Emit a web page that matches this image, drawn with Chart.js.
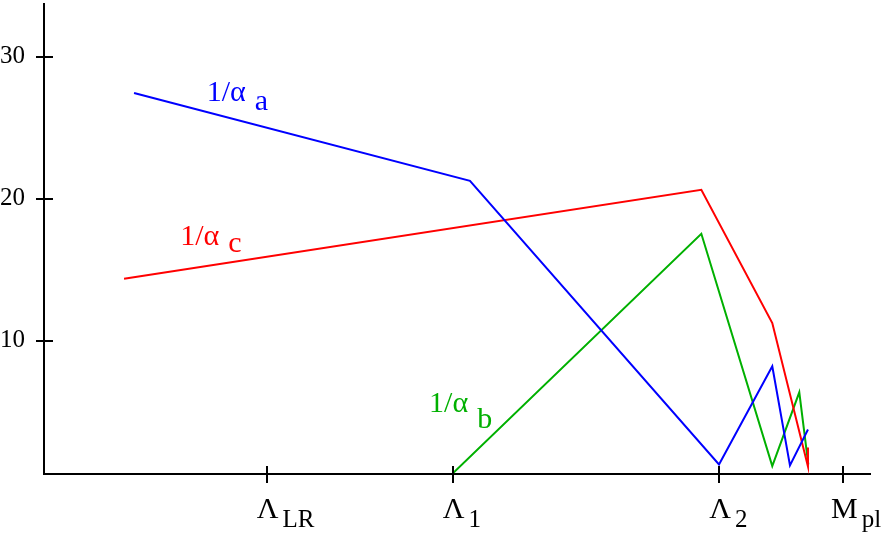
<!DOCTYPE html>
<html lang="en">
<head>
  <meta charset="UTF-8">
  <title>Running couplings</title>
  <script src="https://cdn.jsdelivr.net/npm/chart.js"></script>
  <style>
    html, body { margin: 0; padding: 0; background: #fff; }
    #wrap { width: 888px; height: 537px; position: relative; }
  </style>
</head>
<body>
  <div id="wrap"><canvas id="chart"></canvas></div>

  <script>
    // scale positions (arbitrary log-energy units, 0..100)
    const scaleTicks = [26.96, 49.48, 81.72, 96.77];
    const scaleNames = ['Λ', 'Λ', 'Λ', 'M'];
    const scaleSubs = ['LR', '1', '2', 'pl'];

    const yTicks = [10, 20, 30];

    // 1/alpha_a (blue)
    const aX = [10.90, 51.57, 81.72, 88.17, 90.31, 92.49];
    const aY = [27.44, 21.25, 1.28, 8.19, 1.21, 3.74];
    // 1/alpha_c (red)
    const cX = [9.69, 79.58, 88.17, 92.49, 92.49];
    const cY = [14.36, 20.62, 11.24, 1.14, 2.47];
    // 1/alpha_b (green)
    const bX = [49.48, 79.58, 88.17, 91.44, 92.53];
    const bY = [0.65, 17.52, 1.17, 6.36, 1.28];

    const curveNames = ['a', 'c', 'b'];
    const curveColors = ['#0000ff', '#ff0000', '#00b000'];
    // label anchor (data units) and subscript drop in px
    const labelX = [19.70, 16.49, 46.62];
    const labelY = [26.90, 16.75, 4.96];
    const subDrop = [9, 7, 16];

    const pts = (xs, ys) => xs.map((x, i) => ({ x: x, y: ys[i] }));

    const serif = '"Liberation Serif", "Times New Roman", serif';

    // tick marks crossing the axes + x labels with subscripts + curve labels
    const decor = {
      id: 'decor',
      afterDraw(chart) {
        const ctx = chart.ctx;
        const xs = chart.scales.x, ys = chart.scales.y;
        const area = chart.chartArea;
        ctx.save();
        ctx.strokeStyle = '#000';
        ctx.lineWidth = 2;
        ctx.beginPath();
        scaleTicks.forEach(v => {
          const px = Math.round(xs.getPixelForValue(v));
          ctx.moveTo(px, area.bottom);
          ctx.lineTo(px, area.bottom - 8);
        });
        yTicks.forEach(v => {
          const py = Math.round(ys.getPixelForValue(v));
          ctx.moveTo(area.left, py);
          ctx.lineTo(area.left + 9, py);
        });
        ctx.stroke();

        ctx.fillStyle = '#000';
        ctx.textBaseline = 'alphabetic';
        ctx.textAlign = 'left';
        scaleTicks.forEach((v, i) => {
          const px = xs.getPixelForValue(v);
          ctx.font = '30px ' + serif;
          const w = ctx.measureText(scaleNames[i]).width;
          const left = px - w / 2 + 1;
          ctx.fillText(scaleNames[i], left, 518);
          ctx.font = '25px ' + serif;
          ctx.fillText(scaleSubs[i], left + w + 4, 527);
        });

        curveNames.forEach((n, i) => {
          const px = xs.getPixelForValue(labelX[i]);
          const py = ys.getPixelForValue(labelY[i]);
          ctx.fillStyle = curveColors[i];
          ctx.font = '30px ' + serif;
          const main = '1/α';
          const w = ctx.measureText(main).width;
          ctx.fillText(main, px, py);
          ctx.fillText(n, px + w + 9, py + subDrop[i]);
        });
        ctx.restore();
      }
    };

    const line = (data, color) => ({
      data: data,
      borderColor: color,
      borderWidth: 2,
      pointRadius: 0,
      tension: 0,
      fill: false
    });

    new Chart(document.getElementById('chart'), {
      type: 'line',
      data: {
        datasets: [
          line(pts(aX, aY), curveColors[0]),
          line(pts(cX, cY), curveColors[1]),
          line(pts(bX, bY), curveColors[2])
        ]
      },
      options: {
        responsive: true,
        maintainAspectRatio: false,
        animation: false,
        layout: { padding: { top: 4, right: 18, left: 0, bottom: 0 } },
        plugins: { legend: { display: false }, tooltip: { enabled: false } },
        scales: {
          x: {
            type: 'linear',
            min: 0,
            max: 100,
            afterBuildTicks: s => { s.ticks = scaleTicks.map(v => ({ value: v })); },
            afterFit: s => { s.height = 63; s.paddingLeft = 0; s.paddingRight = 0; },
            ticks: { display: false },
            grid: { drawOnChartArea: false, drawTicks: true, tickLength: 9, color: '#000', lineWidth: 2 },
            border: { color: '#000', width: 2 }
          },
          y: {
            type: 'linear',
            min: 0.61,
            max: 33.7,
            afterBuildTicks: s => { s.ticks = yTicks.map(v => ({ value: v })); },
            afterFit: s => { s.width = 44; s.paddingTop = 0; s.paddingBottom = 0; },
            ticks: { color: '#000', padding: 11, font: { family: serif, size: 25 } },
            grid: { drawOnChartArea: false, drawTicks: true, tickLength: 8, color: '#000', lineWidth: 2 },
            border: { color: '#000', width: 2 }
          }
        }
      },
      plugins: [decor]
    });
  </script>
</body>
</html>
